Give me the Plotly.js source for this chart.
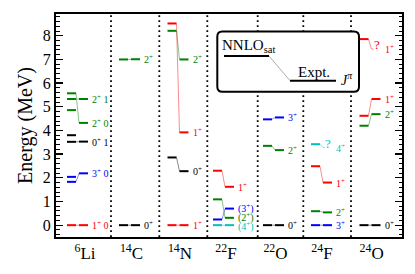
<!DOCTYPE html>
<html><head><meta charset="utf-8">
<script src="https://cdn.plot.ly/plotly-3.0.1.min.js"></script>
<style>html,body{margin:0;padding:0;background:#fff}#chart{width:415px;height:274px}</style>
</head><body><div id="chart"></div>
<script>
// ---- data (energies in MeV) ----
const nuclei = ["<sup>6</sup>Li","<sup>14</sup>C","<sup>14</sup>N","<sup>22</sup>F","<sup>22</sup>O","<sup>24</sup>F","<sup>24</sup>O"];

const Li6_Jpi  = ["1+ 0","3+ 0","0+ 1","2+ 0","2+ 1"];
const Li6_nnlo = [0.00, 1.83, 3.52, 5.57, 5.33];
const Li6_expt = [0.00, 2.19, 3.53, 4.32, 5.33];
const Li6_tent = [false,false,false,false,false];
const Li6_nnloExtra = [2.04, 3.80, 4.86];
const Li6_extraJpi  = ["3+","0+","2+"];

const C14_Jpi  = ["0+","2+"];
const C14_nnlo = [0.00, 7.00];
const C14_expt = [0.00, 7.01];
const C14_tent = [false,false];

const N14_Jpi  = ["1+","0+","1+","2+"];
const N14_nnlo = [0.00, 2.86, 8.52, 8.21];
const N14_expt = [0.00, 2.28, 3.92, 7.00];
const N14_tent = [false,false,false,false];

const F22_Jpi  = ["(4+)","(2+)","(3+)","1+"];
const F22_nnlo = [0.00, 1.09, 0.24, 2.30];
const F22_expt = [0.00, 0.31, 0.70, 1.62];
const F22_tent = [false,false,false,false];

const O22_Jpi  = ["0+","2+","3+"];
const O22_nnlo = [0.00, 3.35, 4.47];
const O22_expt = [0.00, 3.17, 4.55];
const O22_tent = [false,false,false];

const F24_Jpi  = ["3+","2+","1+","4+"];
const F24_nnlo = [0.00, 0.59, 2.49, 3.42];
const F24_expt = [0.00, 0.54, 1.80, 3.28];
const F24_tent = [false,false,false,true];

const O24_Jpi  = ["0+","2+","1+","1+"];
const O24_nnlo = [0.00, 4.20, 4.62, 7.86];
const O24_expt = [0.00, 4.69, 5.33, 7.44];
const O24_tent = [false,false,false,true];

// ---- layout helpers (x axis in pixel-like units across the plot area) ----
const groups = [
  {jpi:Li6_Jpi, nnlo:Li6_nnlo, expt:Li6_expt, tent:Li6_tent, extraE:Li6_nnloExtra, extraJ:Li6_extraJpi},
  {jpi:C14_Jpi, nnlo:C14_nnlo, expt:C14_expt, tent:C14_tent},
  {jpi:N14_Jpi, nnlo:N14_nnlo, expt:N14_expt, tent:N14_tent},
  {jpi:F22_Jpi, nnlo:F22_nnlo, expt:F22_expt, tent:F22_tent},
  {jpi:O22_Jpi, nnlo:O22_nnlo, expt:O22_expt, tent:O22_tent},
  {jpi:F24_Jpi, nnlo:F24_nnlo, expt:F24_expt, tent:F24_tent},
  {jpi:O24_Jpi, nnlo:O24_nnlo, expt:O24_expt, tent:O24_tent}
];
const colCenter = [23, 75, 123.5, 169, 219, 267, 315.5];
const tickPos   = [29, 75.5, 124, 170, 219.5, 266, 315.7];
const sepPos    = [55, 103.3, 151.3, 201.7, 247.3, 295];
const spinColor = {"0":"#000000","1":"#ff0000","2":"#008000","3":"#0000ff","4":"#00bfbf"};
const colorOf = s => spinColor[s.replace(/[()?]/g,'')[0]];
const fmt = s => s.replace(/\+/g,'<sup>+</sup>');
const SERIF = 'Liberation Serif, Times New Roman, serif';
const MIN_LABEL_GAP = 0.37;

const thick = {}, thin = {};
function add(store, c, xs, ys){
  if(!store[c]) store[c] = {x:[], y:[]};
  store[c].x.push(...xs, null); store[c].y.push(...ys, null);
}
const annotations = [];
groups.forEach((g, i) => {
  const xc = colCenter[i];
  // label positions: expt energies, lower label nudged down when two are too close
  const labelY = g.expt.slice();
  const order = g.expt.map((e, k) => k).sort((a, b) => g.expt[a] - g.expt[b]);
  for (let n = order.length - 2; n >= 0; n--) {
    const lo = order[n], hi = order[n+1];
    if (labelY[hi] - labelY[lo] < MIN_LABEL_GAP) labelY[lo] = labelY[hi] - MIN_LABEL_GAP;
  }
  g.jpi.forEach((j, k) => {
    const c = colorOf(j);
    add(thick, c, [xc-12, xc-3], [g.nnlo[k], g.nnlo[k]]);
    if (g.tent[k]) {
      add(thin, c, [xc-3, xc, xc+2], [g.nnlo[k], g.expt[k], g.expt[k]]);
      annotations.push({x:xc+5, y:g.expt[k]+0.19, xref:'x', yref:'y', text:'?', showarrow:false,
        xanchor:'center', yanchor:'middle', font:{family:SERIF, size:13, color:c}});
    } else {
      add(thick, c, [xc, xc+9], [g.expt[k], g.expt[k]]);
      add(thin, c, [xc-3, xc], [g.nnlo[k], g.expt[k]]);
    }
    annotations.push({x:xc+12, y:labelY[k], xref:'x', yref:'y', text:fmt(j), showarrow:false,
      xanchor:'left', yanchor:'middle', borderpad:0, font:{family:SERIF, size:10, color:c}});
  });
  if (g.extraE) g.extraE.forEach((e, k) => add(thick, colorOf(g.extraJ[k]), [xc-12, xc-3], [e, e]));
});

const traces = [];
Object.keys(thin).forEach(c => traces.push({type:'scatter', mode:'lines', x:thin[c].x, y:thin[c].y,
  line:{color:c, width:0.7}, opacity:0.65, hoverinfo:'skip', showlegend:false}));
Object.keys(thick).forEach(c => traces.push({type:'scatter', mode:'lines', x:thick[c].x, y:thick[c].y,
  line:{color:c, width:2}, hoverinfo:'skip', showlegend:false}));

// ---- decorations ----
const PT = 14, PB = 237, PH = PB - PT;
const yp = py => (PB - py) / PH;       // pixel row -> paper fraction
const xd = px => px - 56;              // pixel column -> x units
const shapes = sepPos.map(s => ({type:'line', xref:'x', yref:'paper', x0:s, x1:s, y0:0, y1:1,
  line:{color:'black', width:1.8, dash:'1.8px,3.2px'}}));
(function(){
  const x0 = xd(217.3), x1 = xd(359), y0 = yp(91.7), y1 = yp(31.5), rx = 5, ry = 5/PH;
  shapes.push({type:'path', xref:'x', yref:'paper', fillcolor:'white', line:{color:'black', width:2},
    path:`M ${x0+rx},${y1} L ${x1-rx},${y1} Q ${x1},${y1} ${x1},${y1-ry} L ${x1},${y0+ry} Q ${x1},${y0} ${x1-rx},${y0} L ${x0+rx},${y0} Q ${x0},${y0} ${x0},${y0+ry} L ${x0},${y1-ry} Q ${x0},${y1} ${x0+rx},${y1} Z`});
})();
shapes.push({type:'line', xref:'x', yref:'paper', x0:xd(224), x1:xd(269), y0:yp(56), y1:yp(56), line:{color:'black', width:2}});
shapes.push({type:'line', xref:'x', yref:'paper', x0:xd(269), x1:xd(290), y0:yp(56), y1:yp(80.7), line:{color:'#888888', width:0.7}});
shapes.push({type:'line', xref:'x', yref:'paper', x0:xd(290), x1:xd(336), y0:yp(80.7), y1:yp(80.7), line:{color:'black', width:2}});
annotations.push({x:xd(220), y:yp(46), xref:'x', yref:'paper', text:'NNLO<sub>sat</sub>', showarrow:false,
  xanchor:'left', yanchor:'middle', font:{family:SERIF, size:15, color:'black'}});
annotations.push({x:xd(313.5), y:yp(72), xref:'x', yref:'paper', text:'Expt.', showarrow:false,
  xanchor:'center', yanchor:'middle', font:{family:SERIF, size:15, color:'black'}});
annotations.push({x:xd(339), y:yp(79), xref:'x', yref:'paper', text:'<i>J</i><sup><i>π</i></sup>', showarrow:false,
  xanchor:'left', yanchor:'middle', font:{family:SERIF, size:14, color:'black'}});

const layout = {
  width:415, height:274, margin:{l:56, r:13, t:14, b:37},
  paper_bgcolor:'white', plot_bgcolor:'white', showlegend:false,
  xaxis:{range:[0,346], showgrid:false, zeroline:false, showline:true, mirror:true, linewidth:2, linecolor:'black',
    ticks:'', tickmode:'array', tickvals:tickPos, ticktext:nuclei,
    tickfont:{family:SERIF, size:17, color:'black'}},
  yaxis:{range:[-0.5,8.92], tick0:0, dtick:1, showgrid:false, zeroline:false, showline:true, mirror:'allticks',
    linewidth:2, linecolor:'black', ticks:'inside', ticklen:7, tickwidth:1.3, tickcolor:'black',
    minor:{dtick:0.2, ticks:'inside', ticklen:3.5, tickwidth:1, tickcolor:'black', showgrid:false},
    tickfont:{family:SERIF, size:16, color:'black'},
    title:{text:'Energy (MeV)', font:{family:SERIF, size:20, color:'black'}, standoff:5}},
  shapes:shapes, annotations:annotations
};
Plotly.newPlot('chart', traces, layout, {staticPlot:true, displayModeBar:false});
</script></body></html>
